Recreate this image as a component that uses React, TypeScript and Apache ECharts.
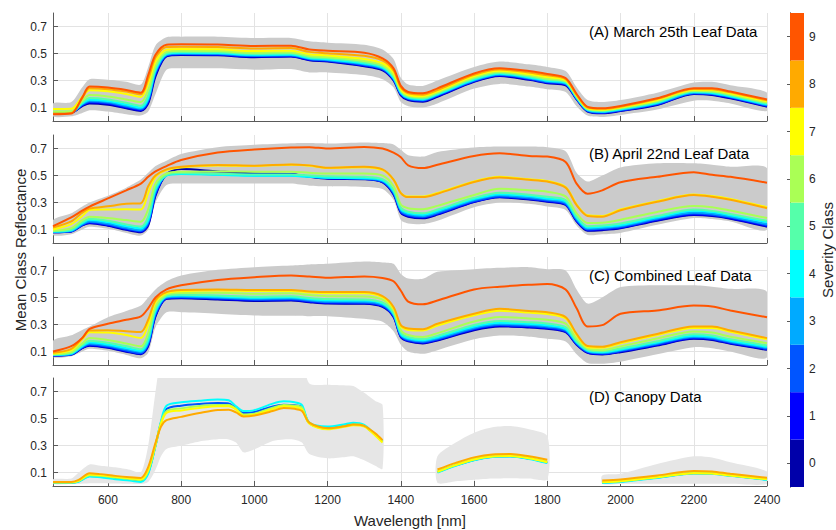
import React, { useEffect, useRef } from 'react';
import * as echarts from 'echarts';

const WAVELENGTH_LEAF = [450, 500, 530, 550, 600, 650, 690, 710, 730, 760, 800, 900, 1000, 1100, 1150, 1200, 1300, 1350, 1380, 1400, 1420, 1460, 1500, 1600, 1670, 1750, 1800, 1850, 1880, 1910, 1950, 2000, 2100, 2200, 2250, 2300, 2400];
const WAVELENGTH_CANOPY = [450, 500, 520, 550, 580, 620, 660, 690, 710, 730, 745, 760, 800, 850, 900, 930, 950, 970, 1000, 1050, 1080, 1110, 1130, 1150, 1200, 1250, 1270, 1300, 1330, 1350, 1420, 1500, 1550, 1600, 1650, 1700, 1750, 1800, 1870, 1950, 2000, 2100, 2200, 2250, 2300, 2400];

const SEVERITY_CLASSES = [0, 1, 2, 3, 4, 5, 6, 7, 8, 9];
const CLASS_COLORS = ['#0000AA', '#0000FF', '#0055FF', '#00AAFF', '#00FFFF', '#55FFAA', '#AAFF55', '#FFFF00', '#FFAA00', '#FF5500'];
const X_TICKS = [600, 800, 1000, 1200, 1400, 1600, 1800, 2000, 2200, 2400];
const Y_TICKS = [0.1, 0.3, 0.5, 0.7];

// (A) March 25th leaf data, class 0..9
const MARCH_LEAF = [
  [0.063,0.063,0.11,0.13,0.12,0.095,0.075,0.13,0.33,0.478,0.489,0.487,0.473,0.477,0.45,0.44,0.405,0.375,0.3,0.19,0.155,0.143,0.18,0.29,0.333,0.305,0.28,0.265,0.16,0.07,0.057,0.074,0.118,0.2,0.193,0.168,0.106],
  [0.064,0.064,0.115,0.137,0.127,0.1,0.08,0.14,0.345,0.482,0.492,0.49,0.477,0.48,0.453,0.444,0.41,0.38,0.305,0.195,0.16,0.148,0.185,0.294,0.337,0.309,0.284,0.269,0.163,0.073,0.06,0.077,0.122,0.203,0.197,0.172,0.11],
  [0.065,0.065,0.12,0.143,0.133,0.106,0.086,0.15,0.355,0.486,0.496,0.494,0.481,0.484,0.457,0.448,0.415,0.385,0.31,0.2,0.164,0.152,0.189,0.298,0.341,0.313,0.288,0.273,0.166,0.076,0.063,0.08,0.126,0.206,0.2,0.176,0.114],
  [0.066,0.066,0.125,0.15,0.14,0.113,0.093,0.16,0.365,0.49,0.5,0.498,0.485,0.488,0.461,0.452,0.42,0.39,0.315,0.205,0.168,0.156,0.193,0.302,0.345,0.318,0.293,0.277,0.17,0.079,0.066,0.083,0.13,0.21,0.204,0.18,0.118],
  [0.067,0.067,0.13,0.158,0.148,0.122,0.1,0.17,0.375,0.495,0.505,0.503,0.49,0.493,0.466,0.457,0.426,0.396,0.32,0.21,0.173,0.161,0.198,0.307,0.35,0.323,0.298,0.282,0.174,0.082,0.07,0.087,0.135,0.214,0.208,0.184,0.123],
  [0.068,0.069,0.138,0.17,0.16,0.135,0.113,0.19,0.39,0.502,0.512,0.51,0.497,0.5,0.473,0.464,0.434,0.403,0.33,0.217,0.179,0.167,0.204,0.314,0.356,0.33,0.305,0.288,0.179,0.086,0.074,0.091,0.141,0.219,0.214,0.19,0.129],
  [0.07,0.072,0.15,0.192,0.182,0.16,0.14,0.23,0.41,0.512,0.52,0.518,0.505,0.508,0.481,0.472,0.445,0.413,0.34,0.225,0.186,0.174,0.211,0.322,0.363,0.338,0.313,0.295,0.185,0.09,0.079,0.096,0.148,0.225,0.221,0.197,0.136],
  [0.088,0.09,0.18,0.228,0.22,0.2,0.178,0.28,0.44,0.528,0.533,0.531,0.518,0.521,0.494,0.485,0.46,0.428,0.36,0.237,0.195,0.184,0.22,0.333,0.372,0.348,0.325,0.303,0.19,0.095,0.084,0.101,0.155,0.232,0.229,0.205,0.145],
  [0.056,0.06,0.17,0.242,0.236,0.218,0.198,0.31,0.47,0.548,0.55,0.548,0.537,0.54,0.512,0.502,0.483,0.448,0.375,0.248,0.205,0.195,0.23,0.342,0.381,0.36,0.338,0.31,0.195,0.1,0.09,0.106,0.162,0.237,0.236,0.212,0.153],
  [0.05,0.055,0.175,0.255,0.248,0.23,0.21,0.34,0.49,0.565,0.568,0.566,0.556,0.558,0.53,0.52,0.506,0.464,0.39,0.26,0.215,0.205,0.242,0.352,0.39,0.37,0.348,0.318,0.2,0.105,0.094,0.111,0.168,0.242,0.243,0.218,0.16],
];
const MARCH_HIGH = [0.13,0.14,0.25,0.31,0.305,0.29,0.27,0.4,0.56,0.62,0.625,0.625,0.615,0.615,0.59,0.58,0.565,0.53,0.46,0.32,0.27,0.26,0.3,0.4,0.44,0.42,0.4,0.37,0.25,0.155,0.14,0.155,0.21,0.285,0.29,0.265,0.21];
const MARCH_LOW = [0.035,0.035,0.06,0.08,0.07,0.05,0.04,0.07,0.2,0.38,0.39,0.39,0.38,0.385,0.36,0.36,0.34,0.31,0.25,0.14,0.11,0.1,0.13,0.24,0.275,0.255,0.235,0.215,0.11,0.04,0.03,0.045,0.085,0.15,0.15,0.13,0.075];

// (B) April 22nd leaf data
const APRIL_LEAF = [
  [0.08,0.085,0.13,0.146,0.128,0.098,0.08,0.13,0.35,0.51,0.548,0.53,0.515,0.512,0.49,0.475,0.472,0.45,0.36,0.225,0.195,0.183,0.21,0.303,0.338,0.322,0.306,0.282,0.16,0.09,0.095,0.109,0.165,0.207,0.2,0.18,0.121],
  [0.08,0.086,0.132,0.15,0.132,0.102,0.084,0.138,0.36,0.505,0.522,0.514,0.508,0.508,0.493,0.48,0.475,0.452,0.365,0.23,0.2,0.188,0.215,0.306,0.341,0.326,0.31,0.285,0.165,0.095,0.1,0.113,0.17,0.212,0.205,0.184,0.126],
  [0.081,0.088,0.135,0.155,0.137,0.107,0.089,0.148,0.37,0.504,0.517,0.511,0.505,0.505,0.492,0.482,0.476,0.455,0.37,0.235,0.205,0.193,0.22,0.31,0.345,0.33,0.315,0.29,0.17,0.1,0.105,0.118,0.175,0.218,0.21,0.19,0.132],
  [0.082,0.09,0.14,0.162,0.145,0.114,0.096,0.158,0.38,0.502,0.514,0.508,0.5,0.5,0.49,0.482,0.478,0.46,0.378,0.243,0.213,0.2,0.228,0.318,0.353,0.338,0.322,0.298,0.178,0.107,0.112,0.125,0.182,0.226,0.218,0.197,0.14],
  [0.085,0.095,0.148,0.172,0.155,0.125,0.108,0.17,0.395,0.5,0.512,0.505,0.498,0.498,0.49,0.483,0.48,0.465,0.385,0.252,0.222,0.21,0.238,0.326,0.362,0.348,0.33,0.308,0.188,0.115,0.12,0.133,0.19,0.238,0.229,0.206,0.155],
  [0.088,0.1,0.155,0.18,0.165,0.138,0.122,0.195,0.415,0.505,0.518,0.513,0.508,0.508,0.5,0.494,0.49,0.473,0.395,0.262,0.232,0.22,0.248,0.335,0.373,0.358,0.342,0.318,0.198,0.125,0.13,0.145,0.2,0.248,0.238,0.215,0.165],
  [0.09,0.11,0.17,0.195,0.185,0.17,0.158,0.25,0.44,0.515,0.528,0.53,0.528,0.528,0.52,0.515,0.515,0.5,0.42,0.285,0.258,0.25,0.275,0.356,0.402,0.39,0.38,0.345,0.22,0.148,0.15,0.172,0.23,0.275,0.265,0.24,0.185],
  [0.1,0.14,0.2,0.245,0.248,0.25,0.248,0.37,0.49,0.54,0.56,0.574,0.57,0.58,0.573,0.555,0.562,0.54,0.47,0.37,0.345,0.345,0.37,0.456,0.49,0.472,0.46,0.415,0.285,0.205,0.2,0.248,0.31,0.36,0.348,0.326,0.265],
  [0.115,0.16,0.225,0.255,0.272,0.29,0.295,0.42,0.5,0.545,0.565,0.578,0.573,0.582,0.575,0.558,0.565,0.545,0.47,0.37,0.34,0.34,0.365,0.452,0.485,0.468,0.455,0.41,0.28,0.2,0.195,0.242,0.305,0.355,0.342,0.32,0.258],
  [0.125,0.19,0.24,0.27,0.33,0.39,0.44,0.49,0.53,0.57,0.615,0.67,0.693,0.708,0.71,0.7,0.712,0.7,0.67,0.635,0.575,0.555,0.58,0.645,0.664,0.645,0.64,0.6,0.44,0.365,0.39,0.45,0.49,0.525,0.505,0.49,0.447],
];
const APRIL_HIGH = [0.17,0.22,0.27,0.3,0.35,0.41,0.47,0.52,0.57,0.61,0.66,0.71,0.727,0.738,0.74,0.737,0.745,0.74,0.73,0.69,0.65,0.64,0.675,0.708,0.715,0.715,0.71,0.68,0.52,0.455,0.5,0.56,0.59,0.59,0.58,0.565,0.553];
const APRIL_LOW = [0.06,0.065,0.1,0.12,0.105,0.075,0.055,0.1,0.3,0.43,0.44,0.44,0.44,0.44,0.425,0.42,0.415,0.4,0.32,0.17,0.145,0.14,0.165,0.265,0.3,0.29,0.27,0.245,0.13,0.06,0.065,0.075,0.135,0.185,0.178,0.16,0.1];

// (C) Combined leaf data
const COMBINED_LEAF = [
  [0.07,0.077,0.125,0.143,0.128,0.098,0.08,0.14,0.36,0.49,0.495,0.485,0.475,0.478,0.465,0.455,0.453,0.43,0.355,0.205,0.175,0.16,0.182,0.258,0.286,0.278,0.268,0.243,0.15,0.09,0.078,0.095,0.144,0.194,0.186,0.157,0.112],
  [0.071,0.078,0.127,0.147,0.132,0.102,0.084,0.148,0.368,0.493,0.498,0.489,0.479,0.482,0.469,0.459,0.457,0.434,0.36,0.21,0.179,0.164,0.186,0.262,0.29,0.282,0.272,0.247,0.154,0.093,0.081,0.099,0.148,0.198,0.19,0.161,0.116],
  [0.072,0.08,0.13,0.152,0.137,0.107,0.089,0.156,0.376,0.497,0.502,0.494,0.484,0.487,0.474,0.464,0.462,0.44,0.365,0.215,0.184,0.169,0.191,0.268,0.296,0.288,0.278,0.252,0.158,0.097,0.085,0.103,0.153,0.203,0.195,0.166,0.121],
  [0.074,0.082,0.135,0.16,0.145,0.116,0.097,0.168,0.388,0.502,0.508,0.5,0.491,0.494,0.481,0.471,0.469,0.447,0.372,0.222,0.191,0.176,0.198,0.276,0.304,0.296,0.286,0.26,0.164,0.102,0.09,0.109,0.16,0.21,0.202,0.173,0.128],
  [0.076,0.085,0.14,0.168,0.152,0.125,0.105,0.18,0.4,0.507,0.514,0.507,0.498,0.501,0.488,0.479,0.477,0.455,0.38,0.23,0.198,0.183,0.206,0.285,0.313,0.305,0.295,0.268,0.17,0.107,0.095,0.115,0.167,0.217,0.209,0.18,0.135],
  [0.078,0.09,0.148,0.18,0.165,0.14,0.117,0.2,0.415,0.512,0.521,0.515,0.506,0.509,0.496,0.488,0.486,0.463,0.388,0.24,0.207,0.192,0.216,0.297,0.326,0.317,0.307,0.28,0.178,0.113,0.101,0.123,0.176,0.227,0.219,0.19,0.145],
  [0.08,0.095,0.16,0.2,0.185,0.16,0.138,0.235,0.435,0.522,0.533,0.535,0.528,0.531,0.518,0.51,0.508,0.485,0.405,0.258,0.222,0.208,0.236,0.322,0.356,0.345,0.335,0.306,0.195,0.122,0.11,0.138,0.196,0.248,0.24,0.21,0.162],
  [0.085,0.11,0.19,0.243,0.24,0.222,0.2,0.3,0.465,0.532,0.547,0.552,0.548,0.548,0.537,0.532,0.532,0.503,0.42,0.285,0.26,0.255,0.292,0.368,0.402,0.388,0.378,0.345,0.222,0.132,0.127,0.16,0.222,0.275,0.275,0.247,0.19],
  [0.09,0.12,0.2,0.255,0.258,0.25,0.245,0.335,0.48,0.54,0.556,0.56,0.556,0.556,0.545,0.54,0.54,0.51,0.43,0.295,0.27,0.265,0.305,0.379,0.416,0.4,0.39,0.355,0.23,0.14,0.135,0.169,0.23,0.285,0.285,0.256,0.199],
  [0.1,0.14,0.2,0.268,0.305,0.335,0.36,0.42,0.5,0.56,0.59,0.63,0.65,0.663,0.655,0.646,0.656,0.645,0.62,0.55,0.47,0.45,0.478,0.56,0.58,0.594,0.6,0.56,0.42,0.285,0.295,0.379,0.404,0.44,0.433,0.404,0.354],
];
const COMBINED_HIGH = [0.18,0.22,0.26,0.285,0.354,0.4,0.44,0.5,0.56,0.62,0.663,0.705,0.725,0.737,0.745,0.75,0.766,0.76,0.75,0.675,0.64,0.638,0.69,0.71,0.72,0.725,0.71,0.7,0.56,0.455,0.5,0.577,0.59,0.59,0.58,0.564,0.54];
const COMBINED_LOW = [0.06,0.065,0.1,0.12,0.105,0.075,0.05,0.09,0.28,0.39,0.39,0.38,0.367,0.365,0.362,0.362,0.342,0.32,0.25,0.15,0.1,0.083,0.11,0.19,0.218,0.21,0.195,0.175,0.08,0.015,0.01,0.025,0.08,0.132,0.125,0.1,0.058];

// (D) Canopy data (classes present in canopy survey)
const CANOPY_CLASSES = [2, 4, 6, 7, 8];
const CANOPY = [
  [0.025,0.025,0.035,0.075,0.07,0.056,0.046,0.038,0.1,0.3,0.47,0.57,0.595,0.608,0.615,0.612,0.575,0.541,0.548,0.59,0.602,0.598,0.585,0.465,0.432,0.452,0.46,0.446,0.378,0.33,null,0.103,0.153,0.193,0.217,0.22,0.203,0.173,null,0.025,0.033,0.063,0.094,0.092,0.077,0.048],
  [0.024,0.024,0.032,0.07,0.065,0.05,0.04,0.03,0.09,0.3,0.48,0.595,0.62,0.632,0.64,0.635,0.59,0.555,0.562,0.61,0.627,0.62,0.6,0.47,0.44,0.46,0.468,0.452,0.38,0.335,null,0.1,0.15,0.19,0.215,0.218,0.2,0.17,null,0.022,0.03,0.06,0.092,0.09,0.075,0.045],
  [0.026,0.026,0.037,0.08,0.075,0.062,0.052,0.044,0.11,0.3,0.47,0.555,0.575,0.592,0.6,0.6,0.572,0.53,0.536,0.58,0.6,0.595,0.58,0.465,0.425,0.445,0.455,0.445,0.38,0.33,null,0.108,0.158,0.2,0.222,0.225,0.208,0.18,null,0.03,0.037,0.067,0.098,0.096,0.08,0.053],
  [0.028,0.028,0.04,0.085,0.08,0.068,0.058,0.05,0.12,0.31,0.46,0.541,0.56,0.578,0.59,0.59,0.565,0.52,0.528,0.568,0.59,0.585,0.565,0.462,0.42,0.44,0.45,0.44,0.375,0.322,null,0.105,0.155,0.197,0.219,0.222,0.205,0.176,null,0.028,0.035,0.065,0.095,0.093,0.077,0.05],
  [0.03,0.03,0.045,0.095,0.088,0.075,0.065,0.06,0.14,0.32,0.44,0.488,0.512,0.54,0.563,0.565,0.545,0.515,0.522,0.555,0.578,0.572,0.555,0.47,0.428,0.445,0.455,0.445,0.39,0.34,null,0.122,0.171,0.212,0.234,0.237,0.22,0.195,null,0.041,0.049,0.078,0.112,0.108,0.09,0.061],
];
const CANOPY_HIGH = [0.05,0.055,0.1,0.16,0.15,0.138,0.12,0.1,0.3,0.7,0.95,1.0,1.0,1.0,1.0,1.0,1.0,1.0,1.0,1.0,1.0,1.0,0.95,0.76,0.75,0.745,0.74,0.69,0.63,0.6,null,0.22,0.322,0.395,0.435,0.444,0.42,0.37,null,0.078,0.09,0.163,0.22,0.212,0.176,0.107];
const CANOPY_LOW = [0.015,0.015,0.015,0.02,0.02,0.018,0.016,0.015,0.03,0.12,0.22,0.275,0.298,0.33,0.346,0.345,0.322,0.25,0.273,0.334,0.345,0.343,0.322,0.237,0.205,0.215,0.22,0.19,0.15,0.127,null,0.024,0.035,0.046,0.055,0.058,0.055,0.05,null,0.015,0.015,0.016,0.017,0.017,0.016,0.015];

const FONT = "'Liberation Sans', Arial, Helvetica, sans-serif";
const TEXT_COLOR = '#262626';
const AXIS_COLOR = '#5a5a5a';

const PANELS = [
  { title: '(A) March 25th Leaf Data', xs: WAVELENGTH_LEAF, rows: MARCH_LEAF, classes: SEVERITY_CLASSES, hi: MARCH_HIGH, lo: MARCH_LOW, band: '#cbcbcb' },
  { title: '(B) April 22nd Leaf Data', xs: WAVELENGTH_LEAF, rows: APRIL_LEAF, classes: SEVERITY_CLASSES, hi: APRIL_HIGH, lo: APRIL_LOW, band: '#cbcbcb' },
  { title: '(C) Combined Leaf Data', xs: WAVELENGTH_LEAF, rows: COMBINED_LEAF, classes: SEVERITY_CLASSES, hi: COMBINED_HIGH, lo: COMBINED_LOW, band: '#cbcbcb' },
  { title: '(D) Canopy Data', xs: WAVELENGTH_CANOPY, rows: CANOPY, classes: CANOPY_CLASSES, hi: CANOPY_HIGH, lo: CANOPY_LOW, band: '#e6e6e6' },
];

const GRID_LEFT = 53;
const GRID_WIDTH = 714;
const GRID_TOPS = [13, 135, 257, 378];
const GRID_HEIGHT = 108;

// split an envelope into contiguous (non-null) segments of indices
function segmentsOf(xs: number[], lo: (number | null)[], hi: (number | null)[]) {
  const segs: number[][] = [];
  let cur: number[] = [];
  xs.forEach((_, k) => {
    if (lo[k] == null || hi[k] == null) {
      if (cur.length) segs.push(cur);
      cur = [];
    } else cur.push(k);
  });
  if (cur.length) segs.push(cur);
  return segs;
}

function buildOption() {
  const grid: any[] = [];
  const xAxis: any[] = [];
  const yAxis: any[] = [];
  const series: any[] = [];
  const graphic: any[] = [];

  PANELS.forEach((p, i) => {
    grid.push({ left: GRID_LEFT, top: GRID_TOPS[i], width: GRID_WIDTH, height: GRID_HEIGHT, containLabel: false });
    xAxis.push({
      gridIndex: i, type: 'value', min: 450, max: 2400,
      axisLine: { show: true, onZero: false, lineStyle: { color: AXIS_COLOR, width: 1 } },
      axisTick: { show: true, inside: true, length: 5, customValues: X_TICKS, lineStyle: { color: AXIS_COLOR } },
      axisLabel: { show: i === 3, customValues: X_TICKS, color: TEXT_COLOR, fontSize: 12, fontFamily: FONT, margin: 8, formatter: (v: number) => String(v) },
      splitLine: { show: true, lineStyle: { color: '#e3e3e3', width: 1 } },
    });
    yAxis.push({
      gridIndex: i, type: 'value', min: 0, max: 0.8,
      axisLine: { show: true, lineStyle: { color: AXIS_COLOR, width: 1 } },
      axisTick: { show: true, inside: true, length: 5, customValues: Y_TICKS, lineStyle: { color: AXIS_COLOR } },
      axisLabel: { customValues: Y_TICKS, color: TEXT_COLOR, fontSize: 12, fontFamily: FONT, margin: 6, formatter: (v: number) => v.toFixed(1) },
      splitLine: { show: true, lineStyle: { color: '#e3e3e3', width: 1 } },
    });
    // min/max envelope as filled polygons (one per contiguous segment)
    const segs = segmentsOf(p.xs, p.lo, p.hi);
    series.push({
      type: 'custom', xAxisIndex: i, yAxisIndex: i, silent: true, z: 1,
      data: segs.map((s) => [p.xs[s[0]], p.lo[s[0]]]),
      encode: { x: 0, y: 1 },
      renderItem: (params: any, api: any) => {
        const s = segs[params.dataIndex];
        const pts: number[][] = [];
        s.forEach((k) => pts.push(api.coord([p.xs[k], p.hi[k]])));
        for (let j = s.length - 1; j >= 0; j--) pts.push(api.coord([p.xs[s[j]], p.lo[s[j]]]));
        const cs = params.coordSys;
        return {
          type: 'group',
          clipPath: { type: 'rect', shape: { x: cs.x, y: cs.y, width: cs.width, height: cs.height } },
          children: [{ type: 'polygon', shape: { points: pts, smooth: 0.25 }, style: { fill: p.band, stroke: null } }],
        };
      },
    });
    p.rows.forEach((row, r) => {
      const cls = p.classes[r];
      series.push({
        type: 'line', xAxisIndex: i, yAxisIndex: i, name: 'Class ' + cls, silent: true, z: 2,
        symbol: 'none', smooth: 0.3, connectNulls: false,
        lineStyle: { color: CLASS_COLORS[cls], width: 2 },
        data: p.xs.map((x, k) => [x, row[k]]),
      });
    });
    graphic.push({
      type: 'text', x: 589, y: GRID_TOPS[i] + 18, z: 100,
      style: { text: p.title, fill: '#000', font: `15px ${FONT}`, verticalAlign: 'middle', align: 'left' },
    });
  });

  // colorbar
  grid.push({ left: 790, top: 13, width: 14, height: 474, containLabel: false });
  xAxis.push({ gridIndex: 4, type: 'value', min: 0, max: 1, show: false });
  yAxis.push({
    gridIndex: 4, type: 'value', min: -0.5, max: 9.5, position: 'right',
    axisLine: { show: true, lineStyle: { color: AXIS_COLOR, width: 1 } },
    axisTick: { show: true, inside: true, length: 3, customValues: SEVERITY_CLASSES, lineStyle: { color: AXIS_COLOR } },
    axisLabel: { customValues: SEVERITY_CLASSES, color: TEXT_COLOR, fontSize: 12, fontFamily: FONT, margin: 5 },
    splitLine: { show: false },
  });
  yAxis.push({
    gridIndex: 4, type: 'value', min: -0.5, max: 9.5, position: 'left',
    axisLine: { show: true, lineStyle: { color: AXIS_COLOR, width: 1 } },
    axisTick: { show: false }, axisLabel: { show: false }, splitLine: { show: false },
  });
  series.push({
    type: 'custom', xAxisIndex: 4, yAxisIndex: 4, silent: true,
    data: SEVERITY_CLASSES.map((c) => [0, c]),
    encode: { x: 0, y: 1 },
    renderItem: (params: any, api: any) => {
      const c = api.value(1);
      const p0 = api.coord([0, c + 0.5]);
      const p1 = api.coord([1, c - 0.5]);
      return {
        type: 'rect',
        shape: { x: p0[0], y: p0[1], width: p1[0] - p0[0], height: p1[1] - p0[1] },
        style: { fill: CLASS_COLORS[c], stroke: null },
      };
    },
  });

  graphic.push({
    type: 'text', x: 20, y: 250, rotation: Math.PI / 2, z: 100,
    style: { text: 'Mean Class Reflectance', fill: TEXT_COLOR, font: `15px ${FONT}`, align: 'center', verticalAlign: 'middle' },
  });
  graphic.push({
    type: 'text', x: 410, y: 520, z: 100,
    style: { text: 'Wavelength [nm]', fill: TEXT_COLOR, font: `15px ${FONT}`, align: 'center', verticalAlign: 'middle' },
  });
  graphic.push({
    type: 'text', x: 827, y: 250, rotation: Math.PI / 2, z: 100,
    style: { text: 'Severity Class', fill: TEXT_COLOR, font: `15px ${FONT}`, align: 'center', verticalAlign: 'middle' },
  });

  return { animation: false, backgroundColor: '#ffffff', grid, xAxis, yAxis, series, graphic };
}

export default function App() {
  const ref = useRef<HTMLDivElement>(null);
  useEffect(() => {
    if (!ref.current) return;
    const chart = echarts.init(ref.current, undefined, { renderer: 'svg' });
    chart.setOption(buildOption() as any);
    return () => chart.dispose();
  }, []);
  return <div ref={ref} style={{ position: 'fixed', left: 0, top: 0, width: 836, height: 530 }} />;
}
